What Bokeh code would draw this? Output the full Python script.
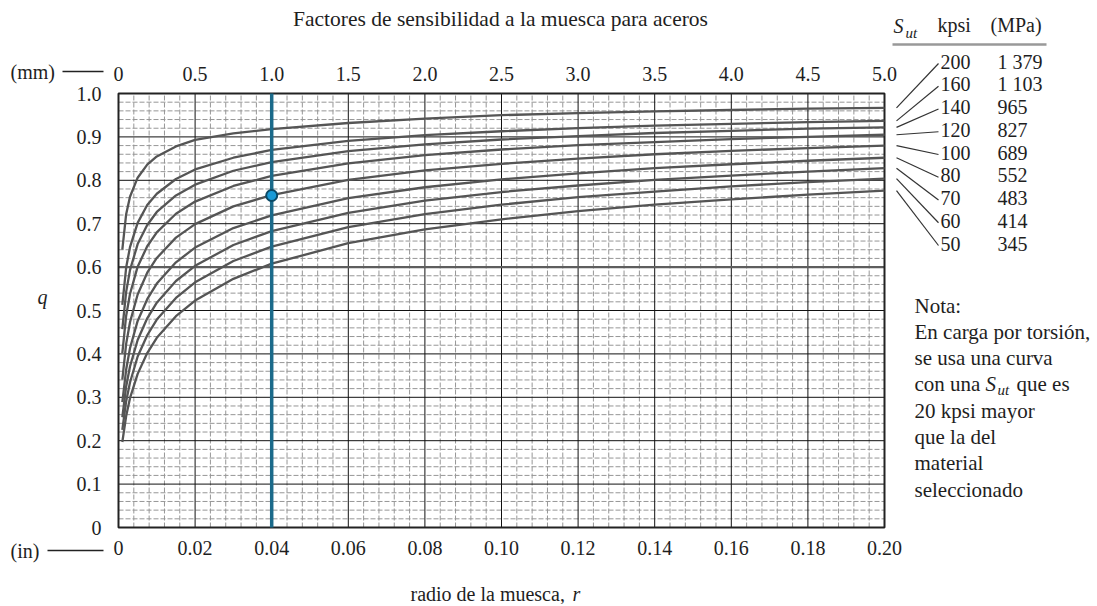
from bokeh.plotting import figure
from bokeh.models import (Range1d, LinearAxis, FixedTicker, CustomJSTickFormatter,
                          Label)
from bokeh.embed import file_html
from bokeh.resources import INLINE

# ---------------- data ----------------
r_in = [0.001, 0.002, 0.003, 0.005, 0.0075, 0.01, 0.015, 0.02, 0.03, 0.04,
        0.06, 0.08, 0.10, 0.12, 0.14, 0.16, 0.18, 0.20]

q_200 = [0.640, 0.722, 0.762, 0.806, 0.836, 0.855, 0.878, 0.893, 0.908, 0.918,
         0.932, 0.942, 0.950, 0.955, 0.959, 0.962, 0.965, 0.967]
q_160 = [0.513, 0.599, 0.646, 0.702, 0.743, 0.769, 0.803, 0.825, 0.852, 0.870,
         0.891, 0.904, 0.913, 0.920, 0.926, 0.930, 0.934, 0.937]
q_140 = [0.457, 0.543, 0.593, 0.653, 0.697, 0.727, 0.765, 0.790, 0.822, 0.842,
         0.867, 0.883, 0.894, 0.902, 0.909, 0.914, 0.919, 0.922]
q_120 = [0.402, 0.488, 0.538, 0.601, 0.648, 0.680, 0.723, 0.751, 0.787, 0.810,
         0.839, 0.858, 0.871, 0.881, 0.888, 0.895, 0.900, 0.905]
q_100 = [0.341, 0.423, 0.473, 0.537, 0.587, 0.621, 0.668, 0.699, 0.740, 0.766,
         0.801, 0.823, 0.838, 0.850, 0.860, 0.868, 0.874, 0.880]
q_80 = [0.289, 0.364, 0.413, 0.476, 0.526, 0.562, 0.611, 0.645, 0.690, 0.719,
        0.759, 0.784, 0.802, 0.816, 0.828, 0.837, 0.845, 0.852]
q_70 = [0.254, 0.325, 0.371, 0.432, 0.482, 0.518, 0.568, 0.603, 0.651, 0.683,
        0.725, 0.753, 0.773, 0.788, 0.801, 0.811, 0.820, 0.828]
q_60 = [0.225, 0.291, 0.334, 0.394, 0.443, 0.479, 0.529, 0.565, 0.614, 0.647,
        0.692, 0.722, 0.744, 0.761, 0.774, 0.786, 0.796, 0.804]
q_50 = [0.197, 0.257, 0.298, 0.354, 0.402, 0.437, 0.487, 0.523, 0.573, 0.608,
        0.655, 0.687, 0.710, 0.729, 0.744, 0.756, 0.767, 0.776]

sut_kpsi = ["200", "160", "140", "120", "100", "80", "70", "60", "50"]
sut_mpa = ["1 379", "1 103", "965", "827", "689", "552", "483", "414", "345"]

in_ticks = [0, 0.02, 0.04, 0.06, 0.08, 0.10, 0.12, 0.14, 0.16, 0.18, 0.20]
mm_ticks = [0, 0.5, 1.0, 1.5, 2.0, 2.5, 3.0, 3.5, 4.0, 4.5, 5.0]
q_ticks = [0, 0.1, 0.2, 0.3, 0.4, 0.5, 0.6, 0.7, 0.8, 0.9, 1.0]

highlight_r = 0.04
highlight_q = 0.765

title_text = "Factores de sensibilidad a la muesca para aceros"
note_lines = ["Nota:", "En carga por torsión,", "se usa una curva", "",
              "20 kpsi mayor", "que la del", "material", "seleccionado"]

curves = [q_200, q_160, q_140, q_120, q_100, q_80, q_70, q_60, q_50]

# ---------------- layout ----------------
W, H = 1095, 604
FL, FT, FR, FB = 118, 93, 884, 527          # chart box in canvas pixels
FONT = "Liberation Serif"
TXT = "#1e1e1e"

R0, R1 = in_ticks[0], in_ticks[-1]
Q0, Q1 = q_ticks[0], q_ticks[-1]
MM_PER_IN = mm_ticks[-1] / in_ticks[-1]
sx = (R1 - R0) / (FR - FL)
sy = (Q1 - Q0) / (FB - FT)
xr = Range1d(R0 - FL * sx, R0 + (W - FL) * sx)
yr = Range1d(Q0 - (H - FB) * sy, Q1 + FT * sy)

p = figure(width=W, height=H, x_range=xr, y_range=yr,
           x_axis_type=None, y_axis_type=None, title=None,
           output_backend="svg", toolbar_location=None, min_border=0)
p.outline_line_color = None
p.background_fill_color = "white"
p.border_fill_color = "white"
p.extra_x_ranges = {"mm": Range1d(xr.start * MM_PER_IN, xr.end * MM_PER_IN)}


def style_axis(ax, standoff):
    ax.axis_line_color = None
    ax.major_tick_out = 0
    ax.major_tick_in = 0
    ax.minor_tick_out = 0
    ax.minor_tick_in = 0
    ax.major_label_text_font = FONT
    ax.major_label_text_font_size = "20px"
    ax.major_label_text_color = TXT
    ax.major_label_standoff = standoff


xa = LinearAxis(ticker=FixedTicker(ticks=in_ticks), fixed_location=Q0,
                formatter=CustomJSTickFormatter(code="return tick == 0 ? '0' : tick.toFixed(2);"))
style_axis(xa, 13)
p.add_layout(xa, "below")

ta = LinearAxis(ticker=FixedTicker(ticks=mm_ticks), x_range_name="mm", fixed_location=Q1,
                formatter=CustomJSTickFormatter(code="return tick == 0 ? '0' : tick.toFixed(1);"))
style_axis(ta, 13)
p.add_layout(ta, "above")

ya = LinearAxis(ticker=FixedTicker(ticks=q_ticks), fixed_location=R0,
                formatter=CustomJSTickFormatter(code="return tick == 0 ? '0' : tick.toFixed(1);"))
style_axis(ya, 17)
p.add_layout(ya, "left")

# grid (minor dashed, major solid) bounded to the chart box
x_minor = [R0 + i * (R1 - R0) / 50 for i in range(51) if i % 5]
y_minor = [Q0 + i * (Q1 - Q0) / 50 for i in range(51) if i % 5]
p.segment(x0=x_minor, y0=[Q0] * len(x_minor), x1=x_minor, y1=[Q1] * len(x_minor),
          line_color="#969696", line_width=1, line_dash="5 2")
p.segment(x0=[R0] * len(y_minor), y0=y_minor, x1=[R1] * len(y_minor), y1=y_minor,
          line_color="#969696", line_width=1, line_dash="5 2")
p.segment(x0=in_ticks, y0=[Q0] * len(in_ticks), x1=in_ticks, y1=[Q1] * len(in_ticks),
          line_color="#111111", line_width=1)
p.segment(x0=[R0] * len(q_ticks), y0=q_ticks, x1=[R1] * len(q_ticks), y1=q_ticks,
          line_color="#111111", line_width=1)
p.segment(x0=[R0], y0=[q_ticks[6]], x1=[R1], y1=[q_ticks[6]],
          line_color="#5e5e5e", line_width=2.4)
p.quad(left=[R0], right=[R1], bottom=[Q0], top=[Q1], fill_color=None,
       line_color="#222222", line_width=2)

for q in curves:
    p.line(r_in, q, line_color="#555555", line_width=2.3, line_join="round")

p.segment(x0=[highlight_r], y0=[Q0], x1=[highlight_r], y1=[Q1],
          line_color="#1b6a8a", line_width=3.5)
p.scatter([highlight_r], [highlight_q], size=11, fill_color="#1a9ad6",
          line_color="#0b4a66", line_width=2)


# helpers mapping canvas pixels to data coordinates for annotation placement
def dx(xp):
    return R0 + (xp - FL) * sx


def dy(yp):
    return Q0 + (FB - yp) * sy


def lab(xp, yp, text, size="20px", style="normal", align="left", color=TXT):
    p.add_layout(Label(x=dx(xp), y=dy(yp), text=text, text_font=FONT,
                       text_font_size=size, text_font_style=style,
                       text_align=align, text_baseline="middle", text_color=color))


def seg(x0, y0, x1, y1, color="#333333", width=1.2):
    p.segment(x0=[x0], y0=[y0], x1=[x1], y1=[y1], line_color=color, line_width=width)


# title
lab(500, 18, title_text, size="21.5px", align="center")

# axis annotations
lab(10, 71, "(mm)")
seg(dx(62), dy(71), dx(103), dy(71), color="#222222", width=1.3)
lab(10, 550, "(in)")
seg(dx(47), dy(550), dx(103), dy(550), color="#222222", width=1.3)
lab(42, 296, "q", style="italic", align="center")
lab(410, 593, "radio de la muesca,")
lab(572, 593, "r", style="italic")

# S_ut table header
lab(893, 25, "S", style="italic")
lab(905, 32, "ut", size="15px", style="italic")
lab(937, 24, "kpsi")
lab(990, 24, "(MPa)")
seg(dx(892), dy(44), dx(1046), dy(44), color="#999999", width=2.5)

for i, (k, m) in enumerate(zip(sut_kpsi, sut_mpa)):
    ry = 61 + i * 22.75
    lab(940, ry, k)
    lab(997, ry, m)
    seg(dx(896), curves[i][-1], dx(938), dy(ry + 2), color="#333333", width=1.2)

# note
for i, t in enumerate(note_lines):
    yy = 305 + i * 26.3
    if t:
        lab(914, yy, t, size="21px")
    else:
        lab(914, yy, "con una", size="21px")
        lab(985, yy, "S", size="21px", style="italic")
        lab(997, yy + 6, "ut", size="15px", style="italic")
        lab(1016, yy, "que es", size="21px")

open("out.html", "w").write(file_html(p, INLINE))
